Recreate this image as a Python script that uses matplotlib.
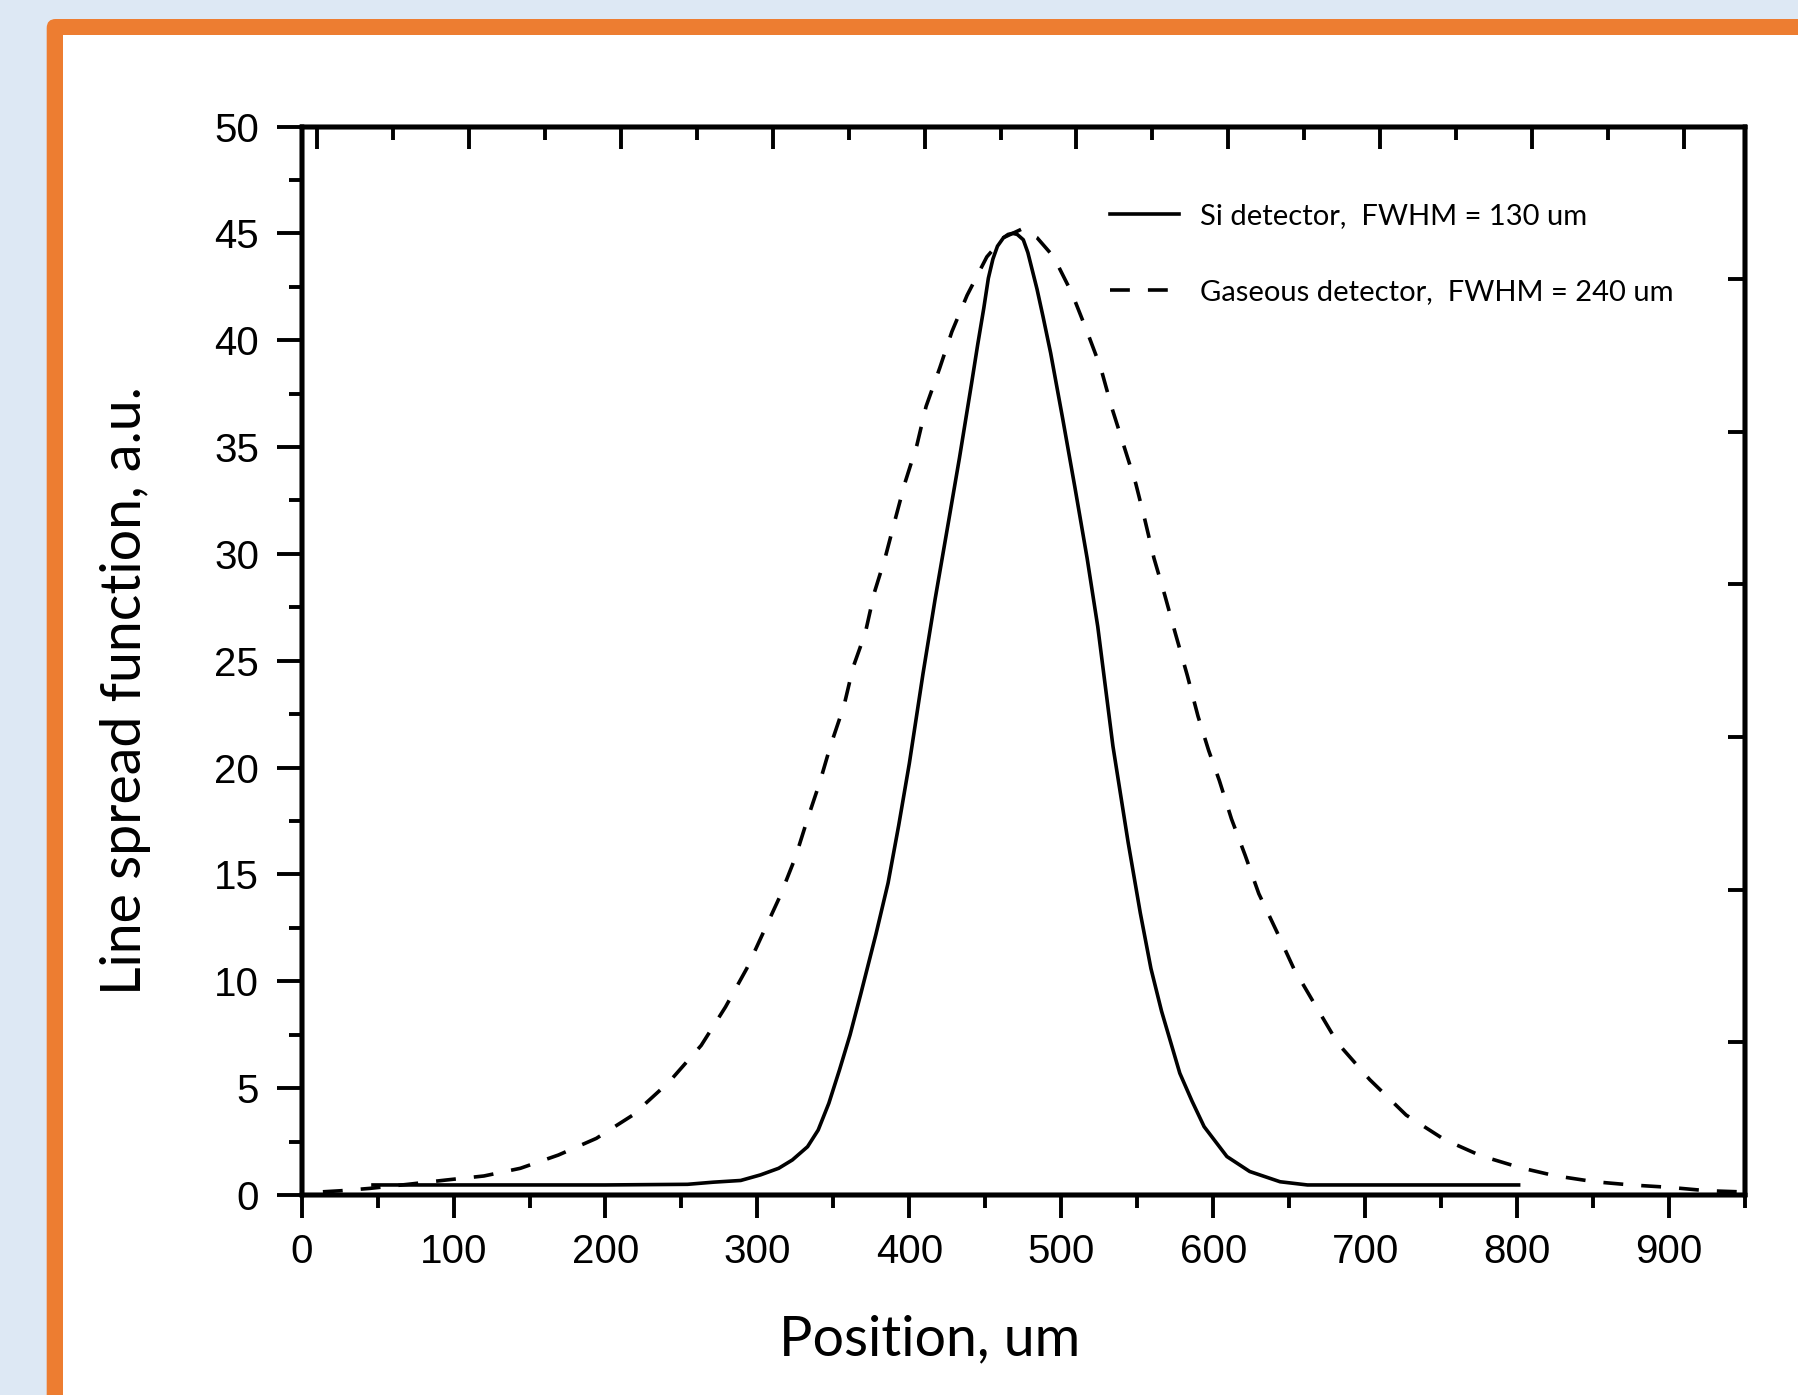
import numpy as np
import matplotlib.pyplot as plt
from matplotlib.patches import FancyBboxPatch, Rectangle
from matplotlib.ticker import MultipleLocator

# Si detector (solid)
si_x = [47, 100, 150, 200, 254, 271, 289, 302, 314, 323, 333, 340, 347, 354, 361,
        368, 378, 386, 393, 400, 409, 417, 426, 433, 441, 445, 449, 452, 455, 458,
        462, 465, 468, 471, 475, 478, 484, 488, 493, 501, 509, 517, 524, 534, 544,
        552, 559, 566, 578, 586, 594, 609, 624, 644, 662, 700, 750, 801]
si_y = [0.47, 0.47, 0.47, 0.47, 0.5, 0.6, 0.68, 0.94, 1.25, 1.64, 2.26, 3.04, 4.29, 5.85, 7.5,
        9.4, 12.2, 14.6, 17.3, 20.2, 24.4, 27.9, 31.6, 34.5, 38.0, 39.8, 41.5, 42.9, 43.8, 44.4,
        44.8, 44.95, 45.0, 44.95, 44.7, 44.1, 42.4, 41.1, 39.4, 36.3, 33.1, 29.8, 26.6, 21.0, 16.5,
        13.2, 10.6, 8.6, 5.7, 4.4, 3.2, 1.8, 1.1, 0.62, 0.47, 0.47, 0.47, 0.47]

# Gaseous detector (dashed)
gas_x = [14, 26, 45, 70, 95, 120, 144, 169, 194, 218, 242, 263, 279, 293, 304, 315,
         325, 333, 341, 348, 357, 363, 371, 377, 384, 391, 397, 405, 411, 420, 428,
         438, 451, 462, 474, 484, 495, 507, 517, 526, 533, 541, 549, 555, 561, 568,
         575, 583, 590, 597, 604, 612, 621, 630, 642, 653, 667, 682, 703, 727, 752,
         776, 802, 825, 851, 875, 900, 925, 946]
gas_y = [0.15, 0.2, 0.31, 0.5, 0.7, 0.89, 1.25, 1.87, 2.65, 3.74, 5.3, 7.0, 8.8, 10.6, 12.3, 14.0,
         15.8, 17.6, 19.3, 21.0, 22.9, 24.7, 26.3, 28.2, 29.8, 31.7, 33.3, 35.1, 36.9, 38.7, 40.4,
         42.1, 43.9, 44.8, 45.2, 44.8, 43.9, 42.2, 40.4, 38.7, 36.9, 35.1, 33.3, 31.6, 29.8, 28.1,
         26.3, 24.3, 22.4, 20.8, 19.4, 17.6, 15.9, 14.1, 12.3, 10.6, 8.9, 7.1, 5.4, 3.74, 2.6,
         1.84, 1.28, 0.9, 0.62, 0.47, 0.36, 0.2, 0.15]

labels = ["Si detector,  FWHM = 130 um", "Gaseous detector,  FWHM = 240 um"]

W, H = 1798, 1395
fig = plt.figure(figsize=(W / 100, H / 100), dpi=100)
fig.patch.set_facecolor("#dde8f4")

# orange rounded frame and white panel (in inches)
fig.patches.append(FancyBboxPatch((0.467, -1), 20, (H - 19) / 100 + 1,
                                  boxstyle="round,pad=0,rounding_size=0.09",
                                  transform=fig.dpi_scale_trans, facecolor="#ed7d31",
                                  edgecolor="none", zorder=-2))
fig.patches.append(Rectangle((0.625, -1), 20, (H - 35) / 100 + 1,
                             transform=fig.dpi_scale_trans, facecolor="white",
                             edgecolor="none", zorder=-1))

ax = fig.add_axes([301.6 / W, (H - 1195) / H, (1745 - 301.6) / W, (1195 - 126.5) / H])
ax.patch.set_alpha(0)

lw = 2.6
ax.plot(si_x, si_y, color="black", lw=lw, label=labels[0])
ax.plot(gas_x, gas_y, color="black", lw=lw, linestyle=(0, (5.5, 5)), label=labels[1])

ax.set_xlim(0, 950)
ax.set_ylim(0, 50)
ax.xaxis.set_major_locator(MultipleLocator(100))
ax.xaxis.set_minor_locator(MultipleLocator(50))
ax.yaxis.set_major_locator(MultipleLocator(5))
ax.yaxis.set_minor_locator(MultipleLocator(2.5))

ax.tick_params(axis="both", which="major", direction="out", width=2.8, labelsize=29)
ax.tick_params(axis="y", which="major", length=18, pad=12.5)
ax.tick_params(axis="x", which="major", length=16.5, pad=11)
ax.tick_params(axis="both", which="minor", direction="out", width=2.8, length=9.5)
ax.tick_params(top=False, right=False, which="both")
for lab in ax.get_xticklabels() + ax.get_yticklabels():
    lab.set_fontfamily("Liberation Sans")

# top axis: ticks inward, shifted by 10
ax_top = ax.twiny()
ax_top.set_xlim(0, 950)
ax_top.set_xticks(np.arange(10, 950, 100))
ax_top.set_xticks(np.arange(60, 900, 100), minor=True)
ax_top.tick_params(axis="x", which="major", direction="in", length=16, width=2.8, labeltop=False)
ax_top.tick_params(axis="x", which="minor", direction="in", length=9, width=2.8)

# right axis: ticks inward, no labels
ax_right = ax.twinx()
ax_right.set_ylim(0, 7)
ax_right.set_yticks(np.arange(0, 8, 1))
ax_right.tick_params(axis="y", direction="in", length=12, width=2.8, labelright=False)

for a in (ax, ax_top, ax_right):
    for s in a.spines.values():
        s.set_linewidth(3.2)

ax.set_xlabel("Position, um", family="Lato", fontsize=40)
ax.xaxis.set_label_coords(0.4354, -0.112)
ax.set_ylabel("Line spread function, a.u.", family="Lato", fontsize=40)
ax.yaxis.set_label_coords(-0.104, 0.4724)

ax.legend(loc="upper left", bbox_to_anchor=(0.560, 0.9285), frameon=False,
          prop={"family": "Lato", "size": 21}, handlelength=2.36, handletextpad=0.74,
          labelspacing=1.72, borderpad=0, borderaxespad=0)

fig.savefig("out.png", dpi=100, facecolor=fig.get_facecolor())
